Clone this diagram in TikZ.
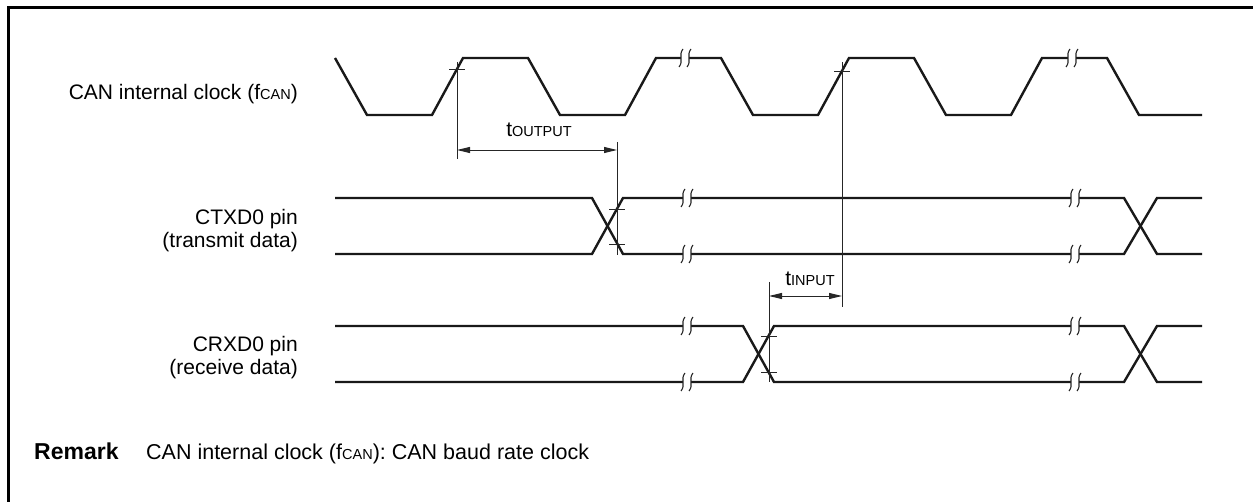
\documentclass[tikz,border=0pt]{standalone}
\usepackage{fontspec}
\setmainfont{Liberation Sans}
\usetikzlibrary{arrows.meta,calc}
\newcommand{\lowcap}[1]{{\fontsize{14.5}{14.5}\selectfont #1}}

\begin{document}
\begin{tikzpicture}[
  x=1pt,y=-1pt,
  font=\fontsize{21}{23}\selectfont,
  >={Triangle[length=13pt,width=6pt]},
  wave/.style={line width=2.4pt,black!90,line join=miter},
  thinline/.style={line width=0.9pt,black!85},
  dimline/.style={thinline,<->},
  brkline/.style={line width=1.1pt,black!85},
  frame/.style={line width=3pt,black},
  lbl/.style={inner sep=0pt,align=right},
]
\useasboundingbox (0,0) rectangle (1253,502);
% ---- outer frame (top and left only) ----
\draw[frame] (8,502) -- (8,8) -- (1253,8);
% ---- signal names ----
\node[lbl,anchor=base east] (clk) at (298,100) {CAN internal clock (f\lowcap{CAN})};
\node[lbl,anchor=east] (ctxd) at (298,231) {CTXD0 pin\\(transmit data)};
\node[lbl,anchor=east] (crxd) at (298,358) {CRXD0 pin\\(receive data)};
% ---- CAN clock ----
\draw[wave] (335,58) \foreach \i in {0,...,3} { -- ++(32,57) -- ++(65,0) -- ++(31,-57) -- ++(65,0) } -- ++(32,57) -- ++(63,0);
% ---- CTXD0 ----
\draw[wave] (335,198) -- (592,198) -- (623,254) -- (1124,254) -- (1157,198) -- (1202,198);
\draw[wave] (335,254) -- (592,254) -- (623,198) -- (1124,198) -- (1157,254) -- (1202,254);
% ---- CRXD0 ----
\draw[wave] (335,326) -- (743,326) -- (774,382) -- (1124,382) -- (1157,326) -- (1202,326);
\draw[wave] (335,382) -- (743,382) -- (774,326) -- (1124,326) -- (1157,382) -- (1202,382);
% ---- break marks ----
\foreach \bx/\by in {685/58,1072/58,687/198,687/254,687/326,687/382,1075/198,1075/254,1075/326,1075/382} {
  \fill[white] (\bx-4,\by-3) rectangle (\bx+4,\by+3);
  \draw[brkline] (\bx-2,\by-9) .. controls (\bx-7,\by-3) and (\bx-1,\by+3) .. (\bx-6,\by+9);
  \draw[brkline] (\bx+6,\by-9) .. controls (\bx+1,\by-3) and (\bx+7,\by+3) .. (\bx+2,\by+9);
}
% ---- reference points on the edges ----
\coordinate (ck1) at (457,69);
\coordinate (ck2) at (842,71);
\coordinate (txa) at (617,209);
\coordinate (txb) at (617,244);
\coordinate (rxa) at (769,336);
\coordinate (rxb) at (769,372);
\foreach \p in {ck1,ck2,txa,txb,rxa,rxb}
  \draw[thinline] ($(\p)+(-8,0)$) -- ($(\p)+(8,0)$);
% ---- extension lines ----
\coordinate (ck1end) at (457,159);
\coordinate (txtop) at (617,142);
\coordinate (txend) at (617,255);
\coordinate (ck2end) at (842,307);
\coordinate (rxtop) at (769,282);
\coordinate (rxend) at (769,382);
\draw[thinline] ($(ck1)+(0,-7)$) -- (ck1end);
\draw[thinline] (txtop) -- (txend);
\draw[thinline] ($(ck2)+(0,-9)$) -- (ck2end);
\draw[thinline] (rxtop) -- (rxend);
% ---- timing arrows ----
\draw[dimline] (ck1 |- 0,150) -- (txtop |- 0,150);
\node[inner sep=0pt,anchor=base] (tout) at (539,137) {t\lowcap{OUTPUT}};
\draw[dimline] (rxtop |- 0,296) -- (ck2 |- 0,296);
\node[inner sep=0pt,anchor=base] (tin) at (810,286) {t\lowcap{INPUT}};
% ---- remark ----
\node[inner sep=0pt,anchor=base west,font=\fontsize{23}{23}\selectfont\bfseries] (rmk) at (34,459) {Remark};
\node[inner sep=0pt,anchor=base west,font=\fontsize{21.5}{23}\selectfont] (rmktxt) at (146,459) {CAN internal clock (f\lowcap{CAN}): CAN baud rate clock};
\end{tikzpicture}
\end{document}
